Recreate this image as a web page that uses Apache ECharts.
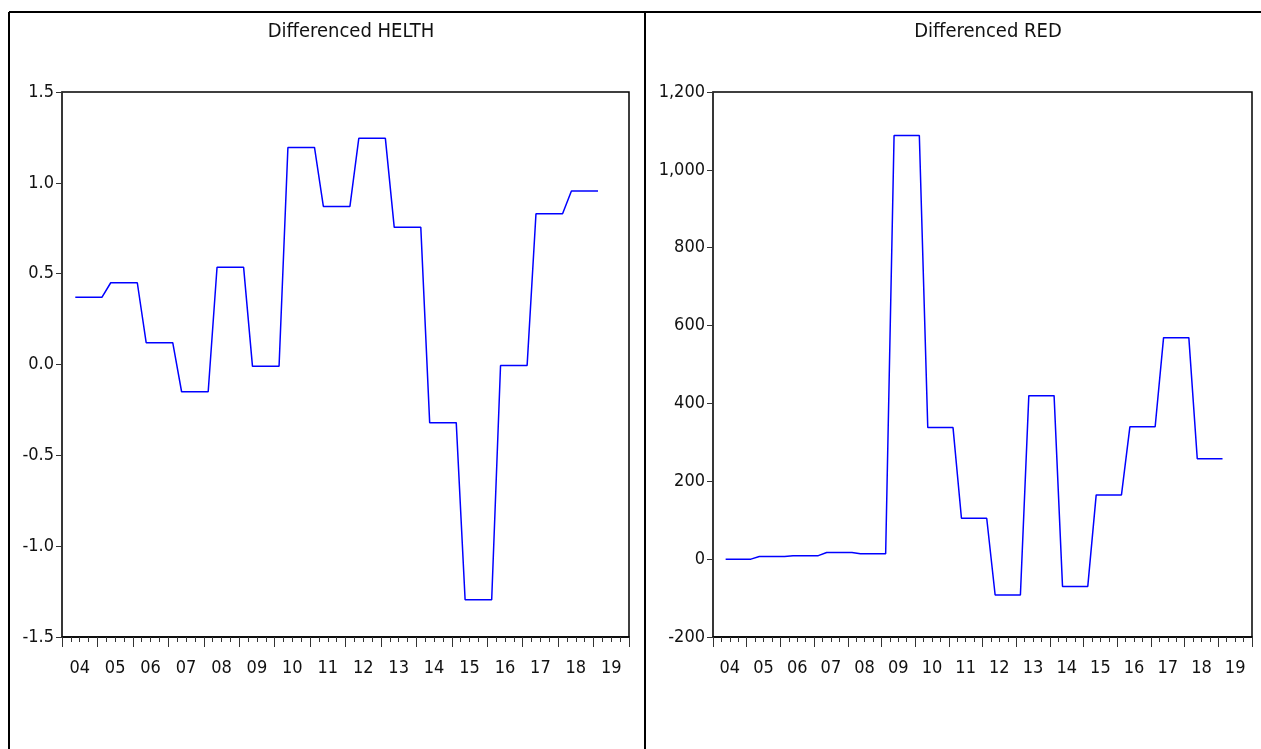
<!DOCTYPE html>
<html>
<head>
<meta charset="utf-8">
<script src="https://cdn.jsdelivr.net/npm/echarts@6/dist/echarts.min.js"></script>
<style>
  html, body { margin: 0; padding: 0; background: #fff; }
  #chart-container { width: 1261px; height: 749px; }
</style>
</head>
<body>
<div id="chart-container"></div>
<script>
var dom = document.getElementById('chart-container');
var myChart = echarts.init(dom, null, { renderer: 'canvas' });

// year labels on the x axis
var years = ['04', '05', '06', '07', '08', '09', '10', '11', '12', '13', '14', '15', '16', '17', '18', '19'];

// quarterly values, 2004Q1 .. 2019Q4
var helth = [null,
  0.37, 0.37, 0.37, 0.37,
  0.45, 0.45, 0.45, 0.45,
  0.12, 0.12, 0.12, 0.12,
  -0.15, -0.15, -0.15, -0.15,
  0.535, 0.535, 0.535, 0.535,
  -0.01, -0.01, -0.01, -0.01,
  1.195, 1.195, 1.195, 1.195,
  0.87, 0.87, 0.87, 0.87,
  1.245, 1.245, 1.245, 1.245,
  0.755, 0.755, 0.755, 0.755,
  -0.32, -0.32, -0.32, -0.32,
  -1.295, -1.295, -1.295, -1.295,
  -0.005, -0.005, -0.005, -0.005,
  0.83, 0.83, 0.83, 0.83,
  0.955, 0.955, 0.955, 0.955,
  null, null, null];

var red = [null,
  0, 0, 0, 0,
  7, 7, 7, 7,
  9, 9, 9, 9,
  17, 17, 17, 17,
  14, 14, 14, 14,
  1088, 1088, 1088, 1088,
  338, 338, 338, 338,
  105, 105, 105, 105,
  -92, -92, -92, -92,
  420, 420, 420, 420,
  -70, -70, -70, -70,
  165, 165, 165, 165,
  340, 340, 340, 340,
  569, 569, 569, 569,
  258, 258, 258, 258,
  null, null, null];

var quarters = [];
years.forEach(function (y) {
  for (var q = 1; q <= 4; q++) quarters.push(y + 'Q' + q);
});

var font = "'Liberation Sans Narrow', 'Arial Narrow', 'DejaVu Sans Condensed', sans-serif";
var ink = '#000';

function quarterAxis(grid) {
  return {
    type: 'category',
    gridIndex: grid,
    position: 'bottom',
    data: quarters,
    boundaryGap: true,
    axisLine: { show: true, onZero: false, lineStyle: { color: ink, width: 1.5 } },
    axisTick: { show: true, interval: 0, length: 5, lineStyle: { color: '#333' } },
    axisLabel: { show: false }
  };
}

function yearAxis(grid) {
  return {
    type: 'category',
    gridIndex: grid,
    position: 'bottom',
    offset: 0,
    data: years,
    boundaryGap: true,
    axisLine: { show: false, onZero: false },
    axisTick: { show: true, interval: 0, length: 10, lineStyle: { color: '#333' } },
    axisLabel: { interval: 0, margin: 22, fontFamily: font, fontSize: 18, color: '#111' }
  };
}

function valueAxis(grid, min, max, step, fmt) {
  return {
    type: 'value',
    gridIndex: grid,
    min: min,
    max: max,
    interval: step,
    axisLine: { show: true, onZero: false, lineStyle: { color: '#333', width: 1.5 } },
    axisTick: { show: true, length: 6, lineStyle: { color: '#333' } },
    splitLine: { show: false },
    axisLabel: { margin: 8, fontFamily: font, fontSize: 18, color: '#111', formatter: fmt }
  };
}

var option = {
  animation: false,
  title: [
    { text: 'Differenced HELTH', left: 346, top: 17, textAlign: 'center',
      textStyle: { fontFamily: font, fontSize: 20, fontWeight: 'normal', color: '#111' } },
    { text: 'Differenced RED', left: 983, top: 17, textAlign: 'center',
      textStyle: { fontFamily: font, fontSize: 20, fontWeight: 'normal', color: '#111' } }
  ],
  grid: [
    { left: 62, top: 92, width: 567, height: 545, show: true, borderColor: ink, borderWidth: 1.5 },
    { left: 713, top: 92, width: 539, height: 545, show: true, borderColor: ink, borderWidth: 1.5 }
  ],
  xAxis: [quarterAxis(0), yearAxis(0), quarterAxis(1), yearAxis(1)],
  yAxis: [
    valueAxis(0, -1.5, 1.5, 0.5, function (v) { return v.toFixed(1); }),
    valueAxis(1, -200, 1200, 200, function (v) { return v.toLocaleString('en-US'); })
  ],
  series: [
    { name: 'HELTH', type: 'line', xAxisIndex: 0, yAxisIndex: 0, data: helth,
      showSymbol: false, connectNulls: false,
      lineStyle: { color: '#0000ff', width: 1.5 }, itemStyle: { color: '#0000ff' } },
    { name: 'RED', type: 'line', xAxisIndex: 2, yAxisIndex: 1, data: red,
      showSymbol: false, connectNulls: false,
      lineStyle: { color: '#0000ff', width: 1.5 }, itemStyle: { color: '#0000ff' } }
  ],
  graphic: [
    { type: 'line', shape: { x1: 9, y1: 12, x2: 9, y2: 749 }, style: { stroke: ink, lineWidth: 2 } },
    { type: 'line', shape: { x1: 9, y1: 12, x2: 1261, y2: 12 }, style: { stroke: ink, lineWidth: 2 } },
    { type: 'line', shape: { x1: 645, y1: 12, x2: 645, y2: 749 }, style: { stroke: ink, lineWidth: 2 } }
  ]
};

myChart.setOption(option);
window.addEventListener('resize', myChart.resize);
</script>
</body>
</html>
